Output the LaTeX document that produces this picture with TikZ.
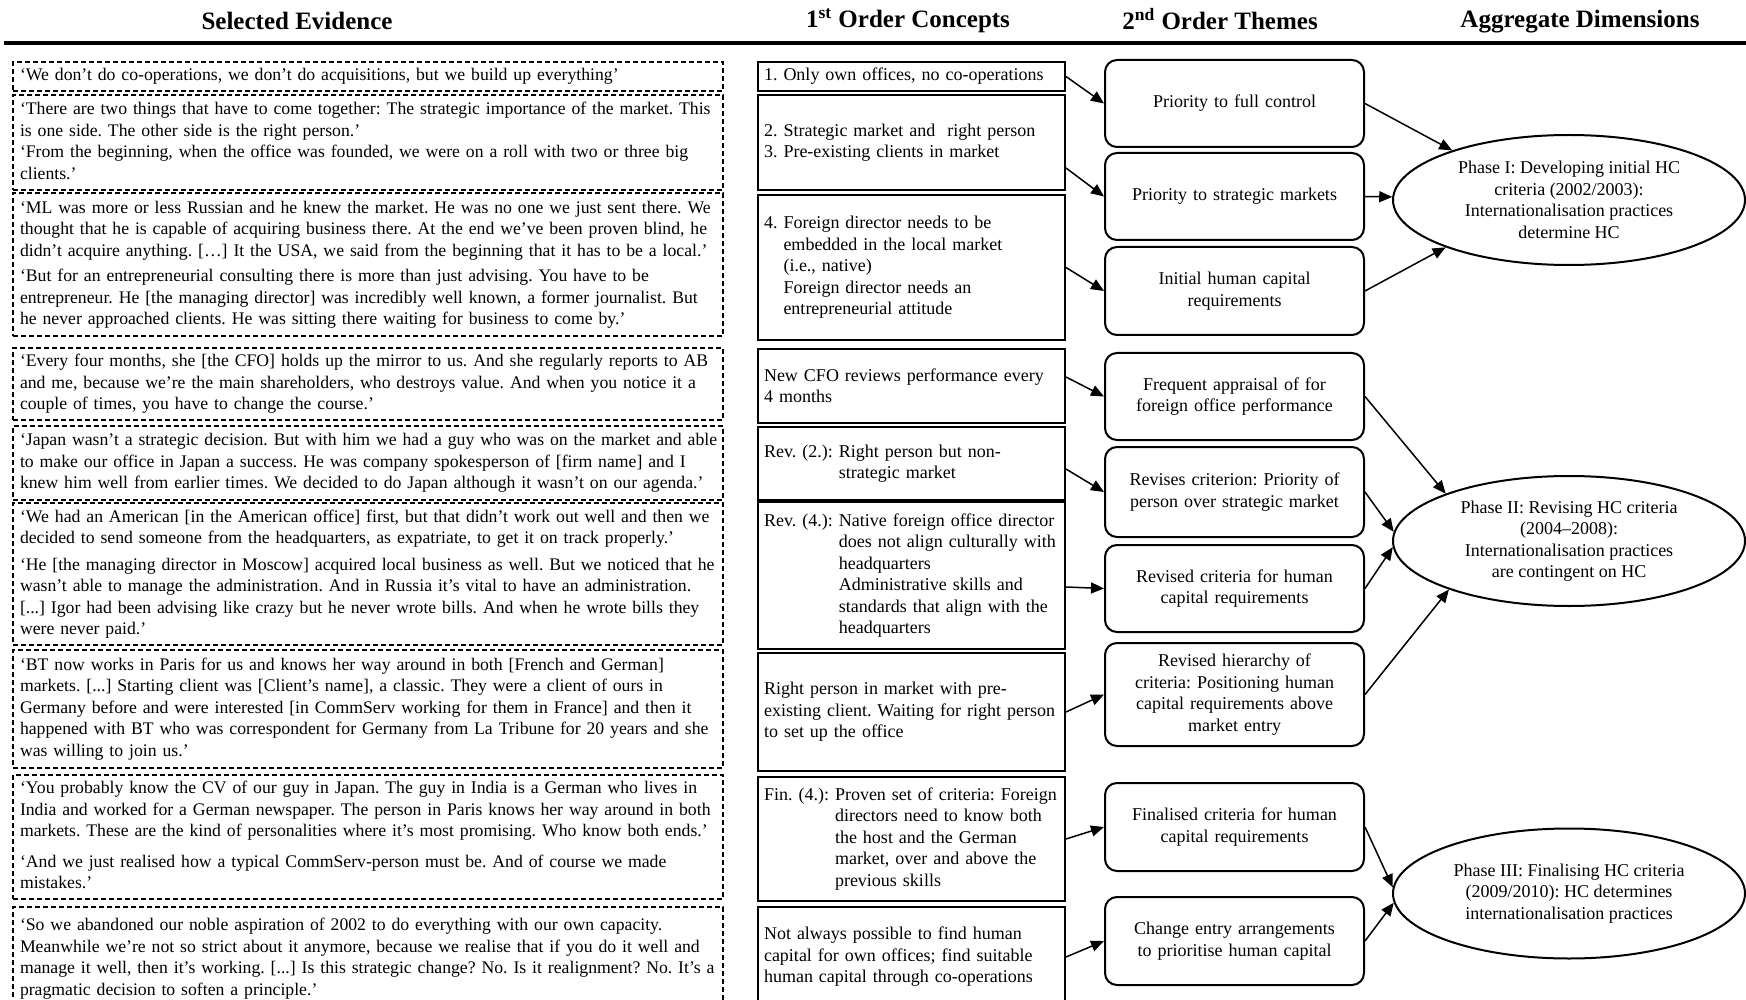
\documentclass[tikz,border=0pt]{standalone}
\usepackage{fontspec}
\setmainfont{Liberation Serif}
\frenchspacing
\usetikzlibrary{arrows.meta,shapes.geometric}

\begin{document}
\begin{tikzpicture}[x=0.5pt,y=-0.5pt]
		\useasboundingbox (0,0) rectangle (1746,1000);
		\clip (0,0) rectangle (1746,1000);
		\fill[white] (0,0) rectangle (1746,1000);
		\tikzset{heading/.style={font=\fontsize{12.5}{14}\selectfont\bfseries}, %column titles
			quote/.style={draw,dash pattern=on 2.5pt off 1.5pt,line width=0.75pt,text width=348pt,inner xsep=3.5pt,inner ysep=0pt,align=left,font=\fontsize{8.85}{10.75}\selectfont},
			concept/.style={draw,line width=1pt,text width=147.5pt,inner xsep=3pt,inner ysep=0pt,align=left,font=\fontsize{9}{10.75}\selectfont},
			theme/.style={draw,rounded corners=6pt,line width=1pt,text width=123pt,inner xsep=3.25pt,inner ysep=0pt,align=center,font=\fontsize{9}{10.75}\selectfont},
			phase/.style={draw,ellipse,line width=1pt,minimum width=176pt,minimum height=65pt,inner sep=0pt},
			phasetext/.style={align=center,font=\fontsize{9}{10.75}\selectfont},
			link/.style={line width=0.75pt,-{Triangle[length=6.5pt,width=5.5pt]}}}
		\node[heading] (hEvidence) at (297,21) {Selected Evidence};
		\node[heading] (hConcepts) at (908,21) {1\textsuperscript{st} Order Concepts};
		\node[heading] (hThemes) at (1220,19) {2\textsuperscript{nd} Order Themes};
		\node[heading] (hDims) at (1580,22) {Aggregate Dimensions};
		\draw[line width=2pt] (4,43) -- (1746,43); %heading rule
		% selected evidence
		\node[quote,minimum height=14.5pt] (q1) at (368,76.5) {‘We don’t do co-operations, we don’t do acquisitions, but we build up everything’};
		\node[quote,minimum height=47.5pt] (q2) at (368,142.5) {\begin{tabular}{@{}l@{}}‘There are two things that have to come together: The strategic importance of the market. This\\ is one side. The other side is the right person.’\\ ‘From the beginning, when the office was founded, we were on a roll with two or three big\\ clients.’\end{tabular}};
		\node[quote,minimum height=71.5pt] (q3) at (368,264.5) {\begin{tabular}{@{}l@{}}‘ML was more or less Russian and he knew the market. He was no one we just sent there. We\\ thought that he is capable of acquiring business there. At the end we’ve been proven blind, he\\ didn’t acquire anything. […] It the USA, we said from the beginning that it has to be a local.’\\[2pt] ‘But for an entrepreneurial consulting there is more than just advising. You have to be\\ entrepreneur. He [the managing director] was incredibly well known, a former journalist. But\\ he never approached clients. He was sitting there waiting for business to come by.’\end{tabular}};
		\node[quote,minimum height=36pt] (q4) at (368,384) {\begin{tabular}{@{}l@{}}‘Every four months, she [the CFO] holds up the mirror to us. And she regularly reports to AB\\ and me, because we’re the main shareholders, who destroys value. And when you notice it a\\ couple of times, you have to change the course.’\end{tabular}};
		\node[quote,minimum height=37pt] (q5) at (368,463) {\begin{tabular}{@{}l@{}}‘Japan wasn’t a strategic decision. But with him we had a guy who was on the market and able\\ to make our office in Japan a success. He was company spokesperson of [firm name] and I\\ knew him well from earlier times. We decided to do Japan although it wasn’t on our agenda.’\end{tabular}};
		\node[quote,minimum height=71pt] (q6) at (368,574) {\begin{tabular}{@{}l@{}}‘We had an American [in the American office] first, but that didn’t work out well and then we\\ decided to send someone from the headquarters, as expatriate, to get it on track properly.’\\[2.5pt] ‘He [the managing director in Moscow] acquired local business as well. But we noticed that he\\ wasn’t able to manage the administration. And in Russia it’s vital to have an administration.\\ {[}...] Igor had been advising like crazy but he never wrote bills. And when he wrote bills they\\ were never paid.’\end{tabular}};
		\node[quote,minimum height=59pt] (q7) at (368,709) {\begin{tabular}{@{}l@{}}‘BT now works in Paris for us and knows her way around in both [French and German]\\ markets. [...] Starting client was [Client's name], a classic. They were a client of ours in\\ Germany before and were interested [in CommServ working for them in France] and then it\\ happened with BT who was correspondent for Germany from La Tribune for 20 years and she\\ was willing to join us.’\end{tabular}};
		\node[quote,minimum height=62pt] (q8) at (368,837) {\begin{tabular}{@{}l@{}}‘You probably know the CV of our guy in Japan. The guy in India is a German who lives in\\ India and worked for a German newspaper. The person in Paris knows her way around in both\\ markets. These are the kind of personalities where it’s most promising. Who know both ends.’\\[4.5pt] ‘And we just realised how a typical CommServ-person must be. And of course we made\\ mistakes.’\end{tabular}};
		\node[quote,minimum height=51.5pt] (q9) at (368,958.5) {\begin{tabular}{@{}l@{}}‘So we abandoned our noble aspiration of 2002 to do everything with our own capacity.\\ Meanwhile we’re not so strict about it anymore, because we realise that if you do it well and\\ manage it well, then it’s working. [...] Is this strategic change? No. Is it realignment? No. It’s a\\ pragmatic decision to soften a principle.’\end{tabular}};
		% 1st order concepts
		\node[concept,minimum height=14.5pt] (c1) at (911.5,76.5) {1. Only own offices, no co-operations};
		\node[concept,minimum height=47.5pt] (c2) at (911.5,142.5) {2. Strategic market and \ right person\\ 3. Pre-existing clients in market};
		\node[concept,minimum height=72.5pt] (c3) at (911.5,267.5) {\begin{tabular}{@{}l@{\ }l@{}}4.&Foreign director needs to be\\ &embedded in the local market\\ &(i.e., native)\\ &Foreign director needs an\\ &entrepreneurial attitude\end{tabular}};
		\node[concept,minimum height=37pt] (c4) at (911.5,386) {New CFO reviews performance every\\ 4 months};
		\node[concept,minimum height=36.5pt] (c5) at (911.5,463.5) {\begin{tabular}{@{}l@{\ }l@{}}Rev. (2.):&Right person but non-\\ &strategic market\end{tabular}};
		\node[concept,minimum height=73.5pt] (c6) at (911.5,575.5) {\begin{tabular}{@{}l@{\ }l@{}}Rev. (4.):&Native foreign office director\\ &does not align culturally with\\ &headquarters\\ &Administrative skills and\\ &standards that align with the\\ &headquarters\end{tabular}};
		\node[concept,minimum height=59pt] (c7) at (911.5,712) {Right person in market with pre-\\ existing client. Waiting for right person\\ to set up the office};
		\node[concept,minimum height=62pt] (c8) at (911.5,839) {\begin{tabular}{@{}l@{\ }l@{}}Fin. (4.):&Proven set of criteria: Foreign\\ &directors need to know both\\ &the host and the German\\ &market, over and above the\\ &previous skills\end{tabular}};
		\node[concept,minimum height=50pt] (c9) at (911.5,957) {Not always possible to find human\\ capital for own offices; find suitable\\ human capital through co-operations};
		% 2nd order themes
		\node[theme,minimum height=43.5pt] (t1) at (1234.5,103.5) {Priority to full control};
		\node[theme,minimum height=43.5pt] (t2) at (1234.5,196.5) {Priority to strategic markets};
		\node[theme,minimum height=44pt] (t3) at (1234.5,291) {Initial human capital\\ requirements};
		\node[theme,minimum height=43.5pt] (t4) at (1234.5,396.5) {Frequent appraisal of for\\ foreign office performance};
		\node[theme,minimum height=45pt] (t5) at (1234.5,492) {Revises criterion: Priority of\\ person over strategic market};
		\node[theme,minimum height=43.5pt] (t6) at (1234.5,588.5) {Revised criteria for human\\ capital requirements};
		\node[theme,minimum height=51.5pt] (t7) at (1234.5,694.5) {Revised hierarchy of\\ criteria: Positioning human\\ capital requirements above\\ market entry};
		\node[theme,minimum height=44pt] (t8) at (1234.5,827) {Finalised criteria for human\\ capital requirements};
		\node[theme,minimum height=44pt] (t9) at (1234.5,941) {Change entry arrangements\\ to prioritise human capital};
		% aggregate dimensions
		\node[phase,label={[phasetext]center:Phase I: Developing initial HC\\ criteria (2002/2003):\\ Internationalisation practices\\ determine HC}] (e1) at (1569,200) {};
		\node[phase,label={[phasetext]center:Phase II: Revising HC criteria\\ (2004–2008):\\ Internationalisation practices\\ are contingent on HC}] (e2) at (1569,541) {};
		\node[phase,label={[phasetext]center:Phase III: Finalising HC criteria\\ (2009/2010): HC determines\\ internationalisation practices}] (e3) at (1569,893.5) {};
		% concepts to themes
		\draw[link] (c1.east) -- (t1.west);
		\draw[link] ([yshift=-12.75pt]c2.east) -- (t2.west);
		\draw[link] (c3.east) -- (t3.west);
		\draw[link] ([yshift=4.5pt]c4.east) -- (t4.west);
		\draw[link] ([yshift=-2.75pt]c5.east) -- (t5.west);
		\draw[link] ([yshift=-5.75pt]c6.east) -- (t6.west);
		\draw[link] (c7.east) -- (t7.west);
		\draw[link] (c8.east) -- (t8.west);
		\draw[link] (c9.east) -- (t9.west);
		% themes to phases
		\draw[link] (t1.east) -- (e1.157);
		\draw[link] (t2.east) -- (e1.179);
		\draw[link] (t3.east) -- (e1.201);
		\draw[link] (t4.east) -- (e2.159);
		\draw[link] (t5.east) -- (e2.177);
		\draw[link] (t6.east) -- (e2.182);
		\draw[link] (t7.east) -- (e2.202);
		\draw[link] (t8.east) -- (e3.178);
		\draw[link] (t9.east) -- (e3.183);
	\end{tikzpicture}
\end{document}
